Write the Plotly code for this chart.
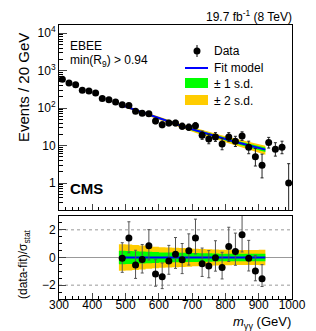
import numpy as np
import plotly.graph_objects as go

# ---------------- data ----------------
mass = list(range(310, 1000, 20))          # bin centres (GeV), 20 GeV bins
events = [590, 470, 420, 300, 286, 252, 180, 168, 146, 124,
          118, 83, 73, 71, 45, 36, 40, 40, 33, 31,
          34, 19, 15, 17, 11, 17, 13, 18, 9, 5,
          3, 12, 8, 9, 1]

fit_mass = list(range(480, 921, 20))       # fit curve sampled at bin edges
fit_vals = [127, 110, 96, 83, 71.5, 61.5, 53, 46, 40, 35.2, 31, 27.2,
            24, 21.2, 18.9, 16.8, 14.9, 13.3, 11.9, 10.7, 9.6, 8.6, 7.8]
fit_rel1 = [0.035, 0.037, 0.039, 0.041, 0.044, 0.047, 0.05, 0.054, 0.058, 0.062, 0.066, 0.07,
            0.074, 0.078, 0.082, 0.087, 0.092, 0.098, 0.105, 0.112, 0.12, 0.128, 0.136]
fit_rel2 = [0.07, 0.074, 0.078, 0.082, 0.088, 0.094, 0.10, 0.108, 0.116, 0.124, 0.132, 0.14,
            0.148, 0.156, 0.164, 0.174, 0.184, 0.196, 0.21, 0.224, 0.24, 0.256, 0.272]

pull_mass = list(range(490, 911, 20))
pulls = [-0.05, 1.41, -0.55, -0.15, 0.85, -1.19, -1.40, -0.25, 0.24, -0.17, 0.48,
         1.41, -0.46, -0.61, -0.02, -0.73, 0.80, 0.44, 1.65, -0.05, -0.97, -1.53]
sd1_pull = [0.48, 0.47, 0.45, 0.43, 0.41, 0.39, 0.37, 0.36, 0.35, 0.34, 0.33,
            0.32, 0.31, 0.30, 0.29, 0.28, 0.28, 0.27, 0.27, 0.27, 0.27, 0.28]
sd2_pull = [0.96, 0.94, 0.90, 0.86, 0.82, 0.78, 0.74, 0.72, 0.70, 0.68, 0.66,
            0.64, 0.62, 0.60, 0.58, 0.56, 0.56, 0.54, 0.54, 0.54, 0.55, 0.56]

ytick_vals = [1, 10, 100, 1000, 10000]
ytick_text = ["1", "10", "10<sup>2</sup>", "10<sup>3</sup>", "10<sup>4</sup>"]

# ---------------- derived quantities ----------------
N = np.array(events, dtype=float)
up = (N + 1) * (1 - 1 / (9 * (N + 1)) + 1 / (3 * np.sqrt(N + 1))) ** 3 - N
lo = N - N * (1 - 1 / (9 * N) - 1 / (3 * np.sqrt(N))) ** 3

fv = np.array(fit_vals)
fit_c = np.sqrt(fv[:-1] * fv[1:])
idx = [mass.index(m) for m in pull_mass]
pu = up[idx] / np.sqrt(fit_c)
pl = lo[idx] / np.sqrt(fit_c)

r1 = np.array(fit_rel1)
r2 = np.array(fit_rel2)
s1 = list(sd1_pull) + [sd1_pull[-1]]
s2 = list(sd2_pull) + [sd2_pull[-1]]

FONT = "Liberation Sans, Arial, sans-serif"
W, H = 316, 331
L, R, T, B = 51, 32, 17, 40
PW, PH = W - L - R, H - T - B


def px(xp):
    return (xp - L) / PW


def py(yp):
    return (H - B - yp) / PH


fig = go.Figure()

# top panel: bands and fit
fig.add_trace(go.Scatter(x=fit_mass, y=fv * (1 - r2), mode="lines", line=dict(width=0),
                         xaxis="x", yaxis="y", showlegend=False, hoverinfo="skip"))
fig.add_trace(go.Scatter(x=fit_mass, y=fv * (1 + r2), mode="lines", line=dict(width=0),
                         fill="tonexty", fillcolor="#ffcc00", xaxis="x", yaxis="y",
                         showlegend=False, hoverinfo="skip"))
fig.add_trace(go.Scatter(x=fit_mass, y=fv * (1 - r1), mode="lines", line=dict(width=0),
                         xaxis="x", yaxis="y", showlegend=False, hoverinfo="skip"))
fig.add_trace(go.Scatter(x=fit_mass, y=fv * (1 + r1), mode="lines", line=dict(width=0),
                         fill="tonexty", fillcolor="#00ff00", xaxis="x", yaxis="y",
                         showlegend=False, hoverinfo="skip"))
fig.add_trace(go.Scatter(x=fit_mass, y=fv, mode="lines", line=dict(color="#0000ff", width=2),
                         xaxis="x", yaxis="y", showlegend=False))
# data
fig.add_trace(go.Scatter(x=mass, y=events, mode="markers",
                         marker=dict(color="black", size=7),
                         error_y=dict(type="data", symmetric=False, array=up, arrayminus=lo,
                                      color="#222222", thickness=1, width=1.5),
                         xaxis="x", yaxis="y", showlegend=False))

# bottom panel bands
fig.add_trace(go.Scatter(x=fit_mass, y=[-v for v in s2], mode="lines", line=dict(width=0, shape="hv"),
                         xaxis="x2", yaxis="y2", showlegend=False, hoverinfo="skip"))
fig.add_trace(go.Scatter(x=fit_mass, y=s2, mode="lines", line=dict(width=0, shape="hv"),
                         fill="tonexty", fillcolor="#ffcc00", xaxis="x2", yaxis="y2",
                         showlegend=False, hoverinfo="skip"))
fig.add_trace(go.Scatter(x=fit_mass, y=[-v for v in s1], mode="lines", line=dict(width=0, shape="hv"),
                         xaxis="x2", yaxis="y2", showlegend=False, hoverinfo="skip"))
fig.add_trace(go.Scatter(x=fit_mass, y=s1, mode="lines", line=dict(width=0, shape="hv"),
                         fill="tonexty", fillcolor="#00ff00", xaxis="x2", yaxis="y2",
                         showlegend=False, hoverinfo="skip"))
fig.add_trace(go.Scatter(x=[fit_mass[0], fit_mass[-1]], y=[0, 0], mode="lines",
                         line=dict(color="#0000ff", width=2),
                         xaxis="x2", yaxis="y2", showlegend=False))
fig.add_trace(go.Scatter(x=pull_mass, y=pulls, mode="markers",
                         marker=dict(color="black", size=7),
                         error_y=dict(type="data", symmetric=False, array=pu, arrayminus=pl,
                                      color="#555555", thickness=1, width=1.5),
                         xaxis="x2", yaxis="y2", showlegend=False))

minor_log = [k * 10.0 ** d for d in range(-1, 5) for k in range(2, 10)]
minor_log = [v for v in minor_log if 0.19 <= v <= 16000]

top_dom = [py(202), 1.0]
bot_dom = [0.0, py(208)]

axis_common = dict(showline=True, linecolor="black", linewidth=1, mirror=True,
                   showgrid=False, zeroline=False, ticks="inside",
                   tickfont=dict(family=FONT, size=12, color="black"))

fig.update_layout(
    width=W, height=H, margin=dict(l=L, r=R, t=T, b=B),
    paper_bgcolor="white", plot_bgcolor="white",
    font=dict(family=FONT, color="black"),
    xaxis=dict(**axis_common, domain=[0, 1], anchor="y", range=[300, 1000],
               dtick=100, ticklen=6, showticklabels=False,
               minor=dict(ticks="inside", dtick=20, ticklen=3, tickcolor="black")),
    yaxis=dict(**axis_common, domain=top_dom, anchor="x", type="log", range=[-0.72, 4.22],
               tickmode="array", tickvals=ytick_vals, ticktext=ytick_text, ticklen=8,
               minor=dict(ticks="inside", tickmode="array", tickvals=minor_log, ticklen=4,
                          tickcolor="black")),
    xaxis2=dict(**axis_common, domain=[0, 1], anchor="y2", range=[300, 1000],
                dtick=100, ticklen=6, ticklabelstandoff=-5,
                minor=dict(ticks="inside", dtick=20, ticklen=3, tickcolor="black")),
    yaxis2=dict(**axis_common, domain=bot_dom, anchor="x2", range=[-3, 3],
                tickmode="array", tickvals=[-2, 0, 2], ticktext=["\u22122", "0", "2"], ticklen=7,
                minor=dict(ticks="inside", dtick=0.5, ticklen=3, tickcolor="black")),
)

# reference lines in ratio panel
for yv, dash in [(2, "dot"), (-2, "dot"), (0, "solid")]:
    fig.add_shape(type="line", xref="x2 domain", yref="y2", x0=0, x1=1, y0=yv, y1=yv,
                  line=dict(color="#999999", width=1, dash=dash), layer="below")

# legend (drawn by hand)
fig.add_shape(type="line", xref="paper", yref="paper", x0=px(189), x1=px(189),
              y0=py(37), y1=py(49), line=dict(color="black", width=1))
fig.add_shape(type="circle", xref="paper", yref="paper", x0=px(185.5), x1=px(192.5),
              y0=py(46.5), y1=py(39.5), fillcolor="black", line=dict(color="black", width=0))
fig.add_shape(type="line", xref="paper", yref="paper", x0=px(177), x1=px(200),
              y0=py(60), y1=py(60), line=dict(color="#0000ff", width=2))
fig.add_shape(type="rect", xref="paper", yref="paper", x0=px(177), x1=px(200),
              y0=py(80), y1=py(70), fillcolor="#00ff00", line=dict(width=0))
fig.add_shape(type="rect", xref="paper", yref="paper", x0=px(177), x1=px(200),
              y0=py(97), y1=py(87), fillcolor="#ffcc00", line=dict(width=0))


def txt(s, x, y, size=12, xanchor="left", yanchor="middle", angle=0):
    fig.add_annotation(text=s, x=px(x), y=py(y), xref="paper", yref="paper",
                       xanchor=xanchor, yanchor=yanchor, showarrow=False, textangle=angle,
                       font=dict(family=FONT, size=size, color="black"))


txt("Data", 204, 43)
txt("Fit model", 204, 60)
txt("\u00b1 1 s.d.", 204, 76)
txt("\u00b1 2 s.d.", 204, 93)

txt("EBEE", 60, 38)
txt("min(R<sub>9</sub>) > 0.94", 60, 53)
txt("<b>CMS</b>", 60, 180, size=15)
txt("19.7 fb<sup>-1</sup> (8 TeV)", 286, 8, xanchor="right")
txt("Events / 20 GeV", 15, 80, size=15, xanchor="center", angle=-90)
txt("(data-fit)/\u03c3<sub>stat</sub>", 16, 256, size=12, xanchor="center", angle=-90)
txt("<i>m</i><sub>\u03b3\u03b3</sub> (GeV)", 285, 315, size=13, xanchor="right")

fig.write_html("out.html")
